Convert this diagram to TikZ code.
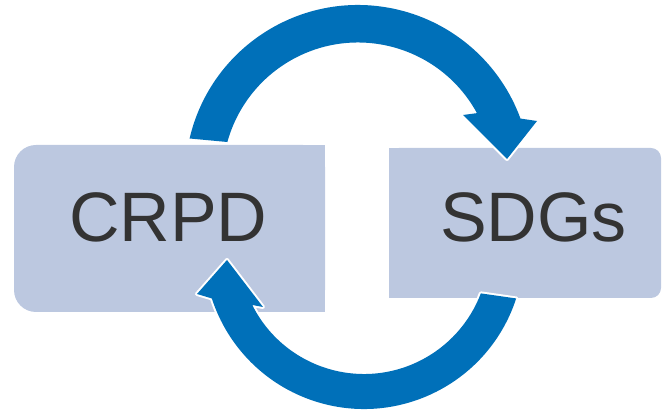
\documentclass[tikz,border=0pt]{standalone}
\usepackage{fontspec}
\setmainfont{Liberation Sans}
\definecolor{arrowblue}{HTML}{0070B9}
\definecolor{boxfill}{HTML}{BCC8E0}
\definecolor{labelgray}{HTML}{333333}
\tikzset{
  boxnode/.style={fill=boxfill, draw=none, inner sep=0pt, outer sep=0pt},
  labeltext/.style={text=labelgray, inner sep=0pt, anchor=base, font=\fontsize{70}{84}\selectfont},
  cyclearrow/.style={fill=arrowblue, preaction={draw=white, line width=4pt, line join=round}}
}
\begin{document}
\begin{tikzpicture}[x=1pt,y=1pt]
\useasboundingbox (0,0) rectangle (662,-411);
% boxes
\node[boxnode, rounded corners=22pt, minimum width=311pt, minimum height=167pt] (crpdbox) at (169.5,-228.5) {};
\fill[boxfill] (crpdbox.north) rectangle (crpdbox.south east);
\node[boxnode, rounded corners=10pt, minimum width=272pt, minimum height=150pt] (sdgbox) at (525,-223) {};
\fill[boxfill] (sdgbox.north west) rectangle (sdgbox.south);
% labels
\node[labeltext] (crpd) at (168.4,-241.7) {CRPD};
\node[labeltext] (sdgs) at (533.5,-241.7) {SDGs};
% arc centres
\coordinate (topc) at (358,-178);
\coordinate (botc) at (364,-249);
% top arrow: CRPD -> SDGs
\path[cyclearrow]
  ([shift={(topc)}]166.8:173) arc[start angle=166.8, end angle=20.1, radius=173]
  -- (537,-121) -- (507,-159) -- (463,-115)
  -- ([shift={(topc)}]28.6:135.5) arc[start angle=28.6, end angle=164.6, radius=135.5]
  -- cycle;
% bottom arrow: SDGs -> CRPD
\path[cyclearrow]
  ([shift={(botc)}]-18:160) arc[start angle=-18, end angle=-162, radius=160]
  -- (197,-294) -- (227,-260) -- (263,-307)
  -- ([shift={(botc)}]-153.4:125) arc[start angle=-153.4, end angle=-20.8, radius=125]
  -- cycle;
\end{tikzpicture}
\end{document}
